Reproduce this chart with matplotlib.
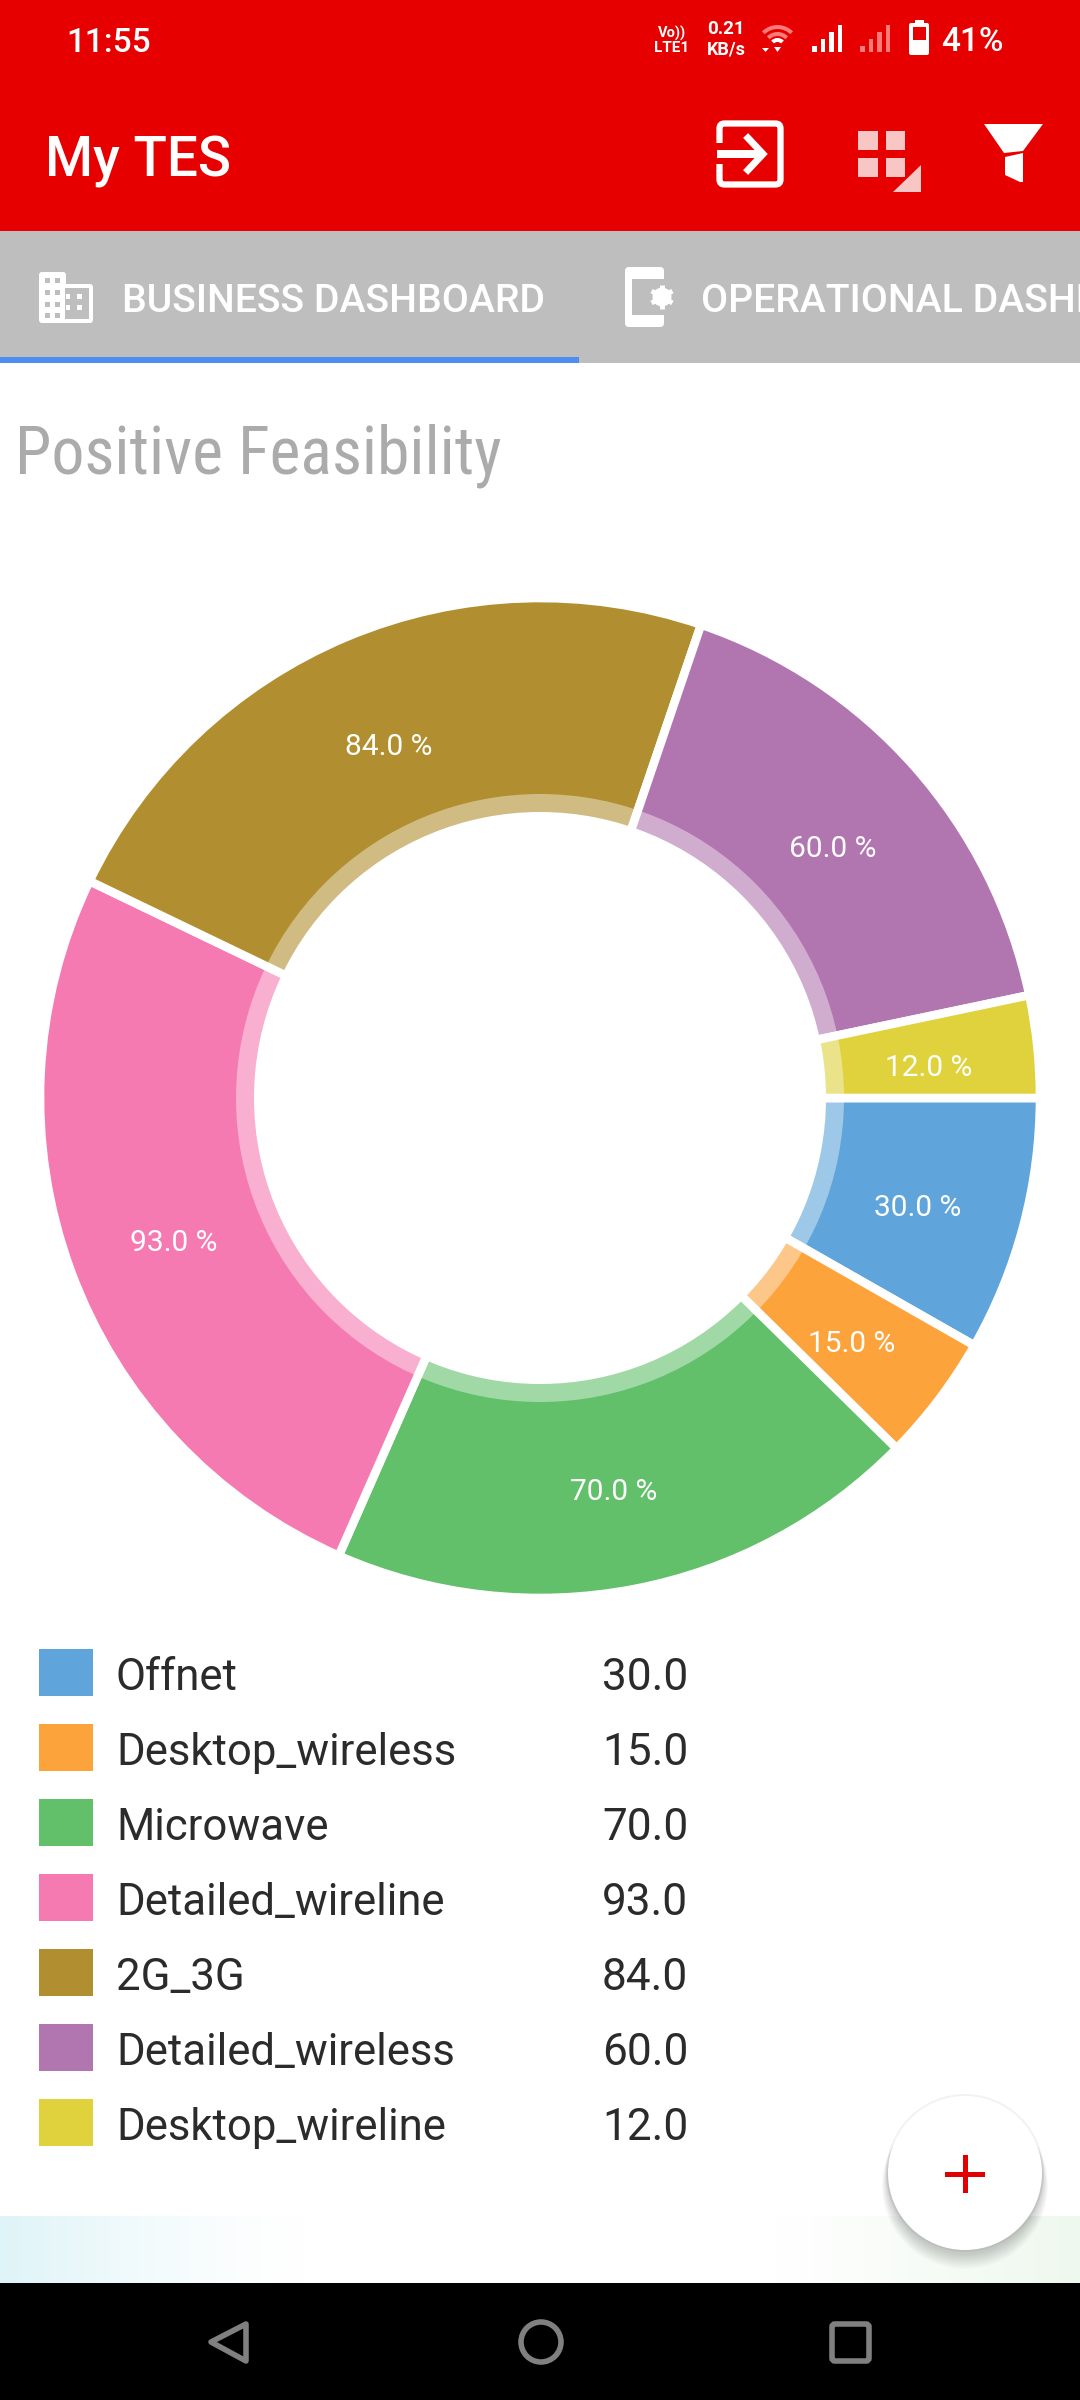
import numpy as np
import matplotlib
matplotlib.use("Agg")
import matplotlib.pyplot as plt
from matplotlib import font_manager
from matplotlib.patches import Rectangle, Circle, Polygon, FancyBboxPatch, Wedge

# chart data
names = ["Offnet", "Desktop_wireless", "Microwave", "Detailed_wireline", "2G_3G", "Detailed_wireless", "Desktop_wireline"]
values = [30.0, 15.0, 70.0, 93.0, 84.0, 60.0, 12.0]
slice_colors = ["#5FA4DA", "#FDA33B", "#62C06B", "#F57AB1", "#B18F30", "#B175B0", "#DFD23C"]

RED = "#E60000"
TAB = "#BEBEBE"
plt.rcParams["font.family"] = ["Roboto", "DejaVu Sans"]
installed = {f.name for f in font_manager.fontManager.ttflist}
narrow = "Roboto Condensed" if "Roboto Condensed" in installed else ("Liberation Sans Narrow" if "Liberation Sans Narrow" in installed else "Roboto")

fig = plt.figure(figsize=(10.8, 24), dpi=100, facecolor="white")

# whole screen axes, units are pixels
ui = fig.add_axes([0, 0, 1, 1])
ui.set_xlim(0, 1080)
ui.set_ylim(2400, 0)
ui.axis("off")

def rect(x0, y0, x1, y1, color, **kw):
    ui.add_patch(Rectangle((x0, y0), x1 - x0, y1 - y0, facecolor=color, edgecolor="none", **kw))

def rounded(x0, y0, x1, y1, r, **kw):
    ui.add_patch(FancyBboxPatch((x0 + r, y0 + r), x1 - x0 - 2 * r, y1 - y0 - 2 * r,
                                boxstyle=f"round,pad={r},rounding_size={r}", **kw))

#header bars
rect(0, 0, 1080, 231, RED)
rect(0, 231, 1080, 363, TAB)
rect(0, 357, 579, 363, "#4F8DEE")

#status bar
ui.text(66, 52, "11:55", color="white", fontsize=24, fontweight="medium", va="baseline")
ui.text(658, 38, "Vo))", color="white", fontsize=10.5, fontweight="bold", va="baseline")
ui.text(654, 52, "LTE1", color="white", fontsize=11, fontweight="bold", va="baseline")
ui.text(707, 34, "0.21", color="white", fontsize=13.5, fontweight="bold", va="baseline")
ui.text(707, 55, "KB/s", color="white", fontsize=13, fontweight="bold", va="baseline")
ui.text(941, 51, "41%", color="white", fontsize=24, fontweight="medium", va="baseline")

#wifi
for r, w, c in [(22, 4, "#FF7B7B"), (15, 4, "#FF7B7B"), (9, 4, "white")]:
    ui.add_patch(Wedge((777.5, 47), r, 225, 315, width=w, facecolor=c, edgecolor="none"))
ui.add_patch(Polygon([(762, 48), (769, 48), (765.5, 52)], facecolor="white", edgecolor="none"))
ui.add_patch(Polygon([(774, 47), (781, 47), (777.5, 52)], facecolor="white", edgecolor="none"))

#signal bars
for i, top in enumerate([46, 39, 32, 25]):
    rect(812 + i * 8.5, top, 816.5 + i * 8.5, 52, "white")
    rect(860 + i * 8.5, top, 864.5 + i * 8.5, 52, "#FF7B7B")

#battery
rounded(909, 23, 929, 55, 2, facecolor="white", edgecolor="none")
rect(915, 20, 924, 24, "white")
rect(913, 27, 925.5, 40, RED)

ui.text(45, 177, "My TES", color="white", fontsize=39.5, fontweight="medium", va="baseline")

#exit icon
rounded(719.5, 123.5, 780.5, 184.5, 5, facecolor="none", edgecolor="white", linewidth=4.5)
rect(712, 143, 726, 164, RED)
rect(717, 150, 760, 158, "white")
ui.plot([748, 763, 748], [138, 154, 170], color="white", lw=5, solid_joinstyle="miter")

#dashboard icon
for x0, x1 in [(858, 878), (886, 905)]:
    for y0, y1 in [(131, 150), (158, 177)]:
        rect(x0, y0, x1, y1, "white", alpha=0.78)
tri = [(921, 165), (921, 192), (893, 192)]
ui.add_patch(Polygon(tri, facecolor=RED, edgecolor=RED, linewidth=3))
ui.add_patch(Polygon(tri, facecolor="white", alpha=0.78, edgecolor="none"))

#filter icon
ui.add_patch(Polygon([(984, 124), (1043, 124), (1023, 151), (1004, 153)], facecolor="white", edgecolor="none"))
ui.add_patch(Polygon([(1005, 157), (1023, 153), (1023, 182), (1020, 182), (1005, 175)], facecolor="white", edgecolor="none"))

#tab bar
ui.text(122, 312, "BUSINESS DASHBOARD", color="white", fontsize=28.2, fontweight="medium", va="baseline")
ui.text(701, 312, "OPERATIONAL DASHBOARD", color="white", fontsize=28.2, fontweight="medium", va="baseline", clip_on=True)

#building icon
rounded(39, 272, 66, 323, 3, facecolor="white", edgecolor="none")
rounded(60, 284, 93, 323, 3, facecolor="white", edgecolor="none")
rect(65, 288, 89, 319, TAB)
for x in [45, 55]:
    for y in [278, 290, 302, 313]:
        rect(x, y, x + 5, y + 5, TAB)
for y in [294, 305]:
    rect(66, y, 70, y + 5, "white")
    rect(77, y, 82, y + 5, "white")

#phone icon
rounded(625, 267, 664, 327, 4, facecolor="white", edgecolor="none")
rect(632, 279, 664, 315, TAB)
ui.add_patch(Circle((662, 297), 14, facecolor=TAB, edgecolor="none"))
ui.add_patch(Circle((662, 297), 9.5, facecolor="white", edgecolor="none"))
for a in np.radians([30, 90, 150, 210, 270, 330]):
    ui.plot([662, 662 + 12 * np.cos(a)], [297, 297 + 12 * np.sin(a)], color="white", lw=3.5, solid_capstyle="butt")
ui.add_patch(Circle((662, 297), 4, facecolor=TAB, edgecolor="none"))

ui.text(15, 474, "Positive Feasibility", color="#ABABAB", fontsize=47.3, family=narrow, va="baseline")

#legend rows
for i, (name, value, c) in enumerate(zip(names, values, slice_colors)):
    y = 1672 + 75 * i
    rect(39, y - 23.5, 93, y + 23.5, c)
    ui.text(116, y + 18, name, color="#2B2B2B", fontsize=31.5, va="baseline")
    ui.text(602, y + 18, f"{value:.1f}", color="#2B2B2B", fontsize=31.8, va="baseline")

#gradient strip above nav bar
n = 256
xs = np.linspace(0, 1, n)
left = np.clip(1 - xs / 0.28, 0, 1)[:, None] ** 1.4 * np.array([32, 11, 7]) / 255
right = np.clip((xs - 0.72) / 0.28, 0, 1)[:, None] * np.array([16, 7, 16]) / 255
strip = (1 - left - right)[None, :, :]
ui.imshow(strip, extent=(0, 1080, 2283, 2216), aspect="auto", zorder=1)
ui.set_xlim(0, 1080)
ui.set_ylim(2400, 0)

#nav bar
rect(0, 2283, 1080, 2400, "black", zorder=2)
ui.add_patch(Polygon([(246, 2324), (246, 2361), (211, 2342)], closed=True, facecolor="none", edgecolor="#808080", linewidth=4, joinstyle="round", zorder=3))
ui.add_patch(Circle((541, 2342), 20, facecolor="none", edgecolor="#808080", linewidth=4, zorder=3))
rounded(832, 2324, 869, 2361, 3, facecolor="none", edgecolor="#808080", linewidth=4, zorder=3)

#fab with soft shadow
for k in range(12):
    ui.add_patch(Circle((965, 2186 - k * 0.8), 83 - k * 0.5, facecolor="black", alpha=0.016, edgecolor="none", zorder=3))
ui.add_patch(Circle((965, 2173), 79, facecolor="black", alpha=0.05, edgecolor="none", zorder=3))
ui.add_patch(Circle((965, 2173), 77, facecolor="white", edgecolor="none", zorder=4))
rect(945, 2172, 985, 2177, "#E00000", zorder=5)
rect(962.5, 2155, 967.5, 2193, "#E00000", zorder=5)

# donut, axes units are pixels too
pie_ax = fig.add_axes([0, (2400 - 1098 - 540) / 2400, 1, 1080 / 2400])
pie_ax.patch.set_alpha(0)
wedges, _ = pie_ax.pie(values, colors=slice_colors, startangle=0, counterclock=False, radius=500,
                       wedgeprops={"edgecolor": "white", "linewidth": 6.2})
pie_ax.set_xlim(-540, 540)
pie_ax.set_ylim(-540, 540)
pie_ax.add_patch(Circle((0, 0), 304, facecolor="white", alpha=0.4, edgecolor="none", zorder=5))
pie_ax.add_patch(Circle((0, 0), 286, facecolor="white", edgecolor="none", zorder=6))
for w, value in zip(wedges, values):
    mid = np.radians((w.theta1 + w.theta2) / 2)
    # label sits a little under the ring's middle, as in the app
    pie_ax.text(391 * np.cos(mid), 391 * np.sin(mid) - 10, f"{value:.1f} %", color="white",
                fontsize=21.5, ha="center", va="center", zorder=7)

fig.savefig("out.png", dpi=100)
